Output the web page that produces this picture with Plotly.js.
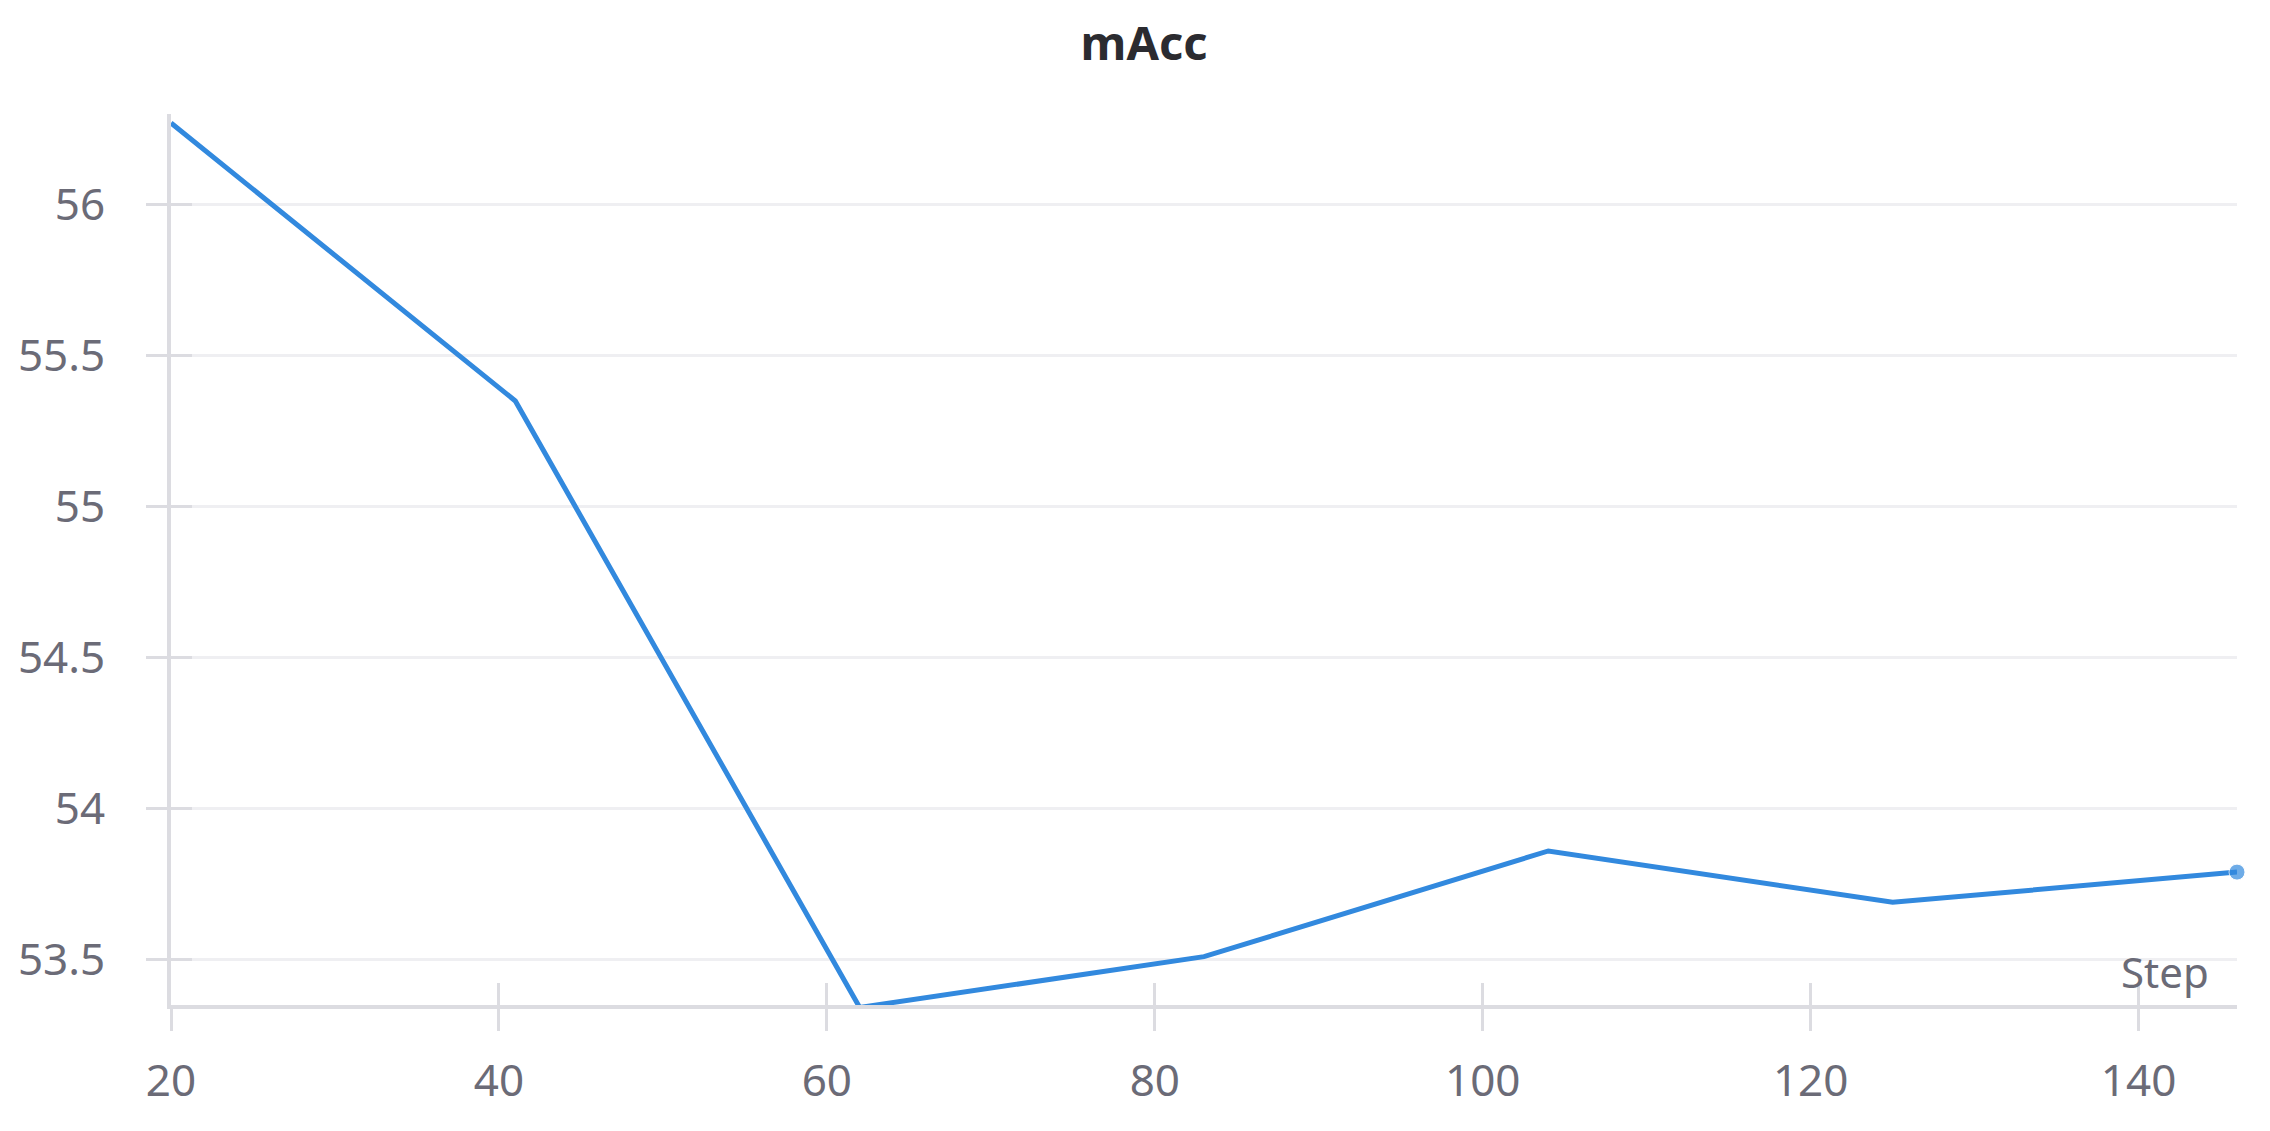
<!DOCTYPE html>
<html>
<head>
<meta charset="utf-8">
<script src="https://cdn.plot.ly/plotly-3.0.1.min.js"></script>
<style>
  html, body { margin: 0; padding: 0; background: #ffffff; }
  #chart { width: 2270px; height: 1131px; }
</style>
</head>
<body>
<div id="chart"></div>
<script>
// mAcc per step
const steps = [20, 41, 62, 83, 104, 125, 146];
const macc = [56.27, 55.35, 53.342, 53.51, 53.86, 53.69, 53.79];

const xTickVals = [20, 40, 60, 80, 100, 120, 140];
const yTickVals = [53.5, 54, 54.5, 55, 55.5, 56];
const yTickText = ["53.5", "54", "54.5", "55", "55.5", "56"];

const xRange = [20, 146];
const yRange = [53.35, 56.3];

const lineColor = "#3289de";
const axisColor = "#dcdce1";
const gridColor = "#efeff2";
const tickFontColor = "#6b6b77";

/* ---------- traces ---------- */

// only the last point gets a dot
const markerSizes = steps.map((s, i) => (i === steps.length - 1 ? 16 : 0));

const trace = {
  x: steps,
  y: macc,
  type: "scatter",
  mode: "lines+markers",
  line: { color: lineColor, width: 5 },
  marker: { color: lineColor, size: markerSizes },
  cliponaxis: false,
  hoverinfo: "skip",
  showlegend: false,
};

// empty trace so the overlay axes (upper half of the crossing ticks) get drawn
const tickHelper = {
  x: steps,
  y: macc,
  xaxis: "x2",
  yaxis: "y2",
  type: "scatter",
  mode: "none",
  hoverinfo: "skip",
  showlegend: false,
};

/* ---------- layout ---------- */

const tickFont = { family: "Noto Sans, sans-serif", size: 44, color: tickFontColor };

const layout = {
  width: 2270,
  height: 1131,
  paper_bgcolor: "#ffffff",
  plot_bgcolor: "#ffffff",
  margin: { l: 171, r: 33, t: 114, b: 126 },
  title: {
    text: "mAcc",
    font: { family: "Noto Sans, sans-serif", size: 47, color: "#2b2b30", weight: "bold" },
    x: 1144 / 2270,
    xanchor: "center",
    xref: "container",
    y: 1 - 44 / 1131,
    yref: "container",
    yanchor: "middle",
  },
  xaxis: {
    range: xRange,
    tickvals: xTickVals,
    tickfont: tickFont,
    ticks: "outside",
    ticklen: 22,
    tickwidth: 3,
    tickcolor: axisColor,
    ticklabelstandoff: 12,
    showline: true,
    linecolor: axisColor,
    linewidth: 4,
    showgrid: false,
    zeroline: false,
  },
  xaxis2: {
    overlaying: "x",
    anchor: "y",
    range: xRange,
    tickvals: xTickVals,
    ticks: "inside",
    ticklen: 22,
    tickwidth: 3,
    tickcolor: axisColor,
    showticklabels: false,
    showline: false,
    showgrid: false,
    zeroline: false,
  },
  yaxis: {
    range: yRange,
    tickvals: yTickVals,
    ticktext: yTickText,
    tickfont: tickFont,
    ticks: "outside",
    ticklen: 21,
    tickwidth: 3,
    tickcolor: axisColor,
    ticklabelstandoff: 32,
    showline: true,
    linecolor: axisColor,
    linewidth: 4,
    showgrid: true,
    gridcolor: gridColor,
    gridwidth: 2.5,
    zeroline: false,
  },
  yaxis2: {
    overlaying: "y",
    anchor: "x",
    range: yRange,
    tickvals: yTickVals,
    ticks: "inside",
    ticklen: 21,
    tickwidth: 3,
    tickcolor: axisColor,
    showticklabels: false,
    showline: false,
    showgrid: false,
    zeroline: false,
  },
  annotations: [
    {
      text: "Step",
      xref: "paper",
      yref: "paper",
      x: 1,
      y: 0,
      xanchor: "right",
      yanchor: "bottom",
      xshift: -26,
      yshift: 3,
      showarrow: false,
      font: { family: "Noto Sans, sans-serif", size: 42, color: tickFontColor },
    },
  ],
};

Plotly.newPlot("chart", [trace, tickHelper], layout, { staticPlot: true, displayModeBar: false });
</script>
</body>
</html>
